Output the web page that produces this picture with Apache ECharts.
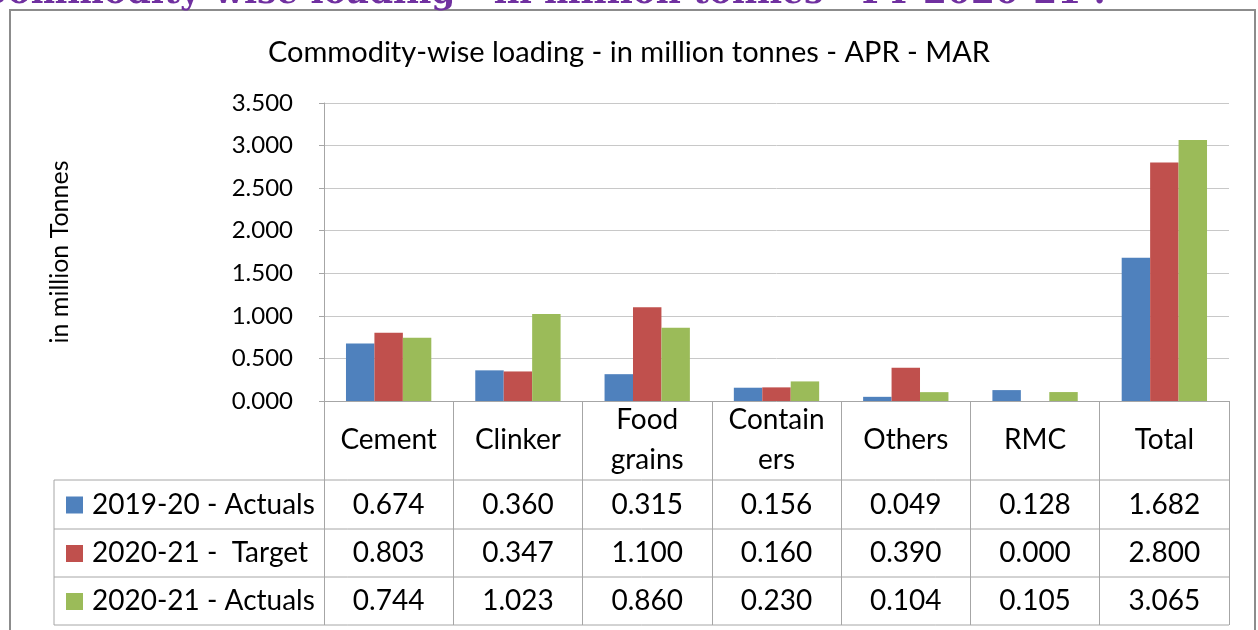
<!DOCTYPE html>
<html>
<head>
<meta charset="utf-8">
<script src="https://cdn.jsdelivr.net/npm/echarts@6/dist/echarts.min.js"></script>
<style>
html, body { margin: 0; padding: 0; background: #fff; }
#main { width: 1258px; height: 630px; }
</style>
</head>
<body>
<div id="main"></div>
<script>
// data
var categories = ['Cement', 'Clinker', 'Food\ngrains', 'Contain\ners', 'Others', 'RMC', 'Total'];
var seriesNames = ['2019-20 - Actuals', '2020-21 -  Target', '2020-21 - Actuals'];
var actuals1920 = [0.674, 0.360, 0.315, 0.156, 0.049, 0.128, 1.682];
var target2021 = [0.803, 0.347, 1.100, 0.160, 0.390, 0.000, 2.800];
var actuals2021 = [0.744, 1.023, 0.860, 0.230, 0.104, 0.105, 3.065];
var colors = ['#4F81BD', '#C0504D', '#9BBB59'];

var pageTitle = 'Commodity-wise loading - in million tonnes - FY 2020-21 :';
var chartTitle = 'Commodity-wise loading - in million tonnes - APR - MAR';
var yName = 'in million Tonnes';

// layout
var FONT = 'Lato';
var gridL = 324, gridT = 103, gridR = 1229, gridB = 401;
var tableL = 54;
var rowY = [480, 529, 577, 625];
var lineColor = '#a6a6a6';
var tableFont = 28;

var allSeries = [actuals1920, target2021, actuals2021];

var myChart = echarts.init(document.getElementById('main'));

var series = [];
for (var i = 0; i < allSeries.length; i++) {
    series.push({
        name: seriesNames[i],
        type: 'bar',
        data: allSeries[i],
        barGap: '0%',
        barCategoryGap: '34%',
        itemStyle: { color: colors[i] },
        animation: false
    });
}

myChart.setOption({
    animation: false,
    title: {
        text: chartTitle,
        left: 'center',
        top: 33,
        textStyle: { fontFamily: FONT, fontSize: 29, fontWeight: 'normal', color: '#000' }
    },
    grid: {
        left: gridL,
        top: gridT,
        width: gridR - gridL,
        height: gridB - gridT,
        containLabel: false
    },
    xAxis: {
        type: 'category',
        data: categories,
        axisLine: { lineStyle: { color: lineColor, width: 1 } },
        axisTick: {
            show: true,
            interval: 0,
            length: rowY[3] - gridB,
            lineStyle: { color: lineColor, width: 1 }
        },
        axisLabel: {
            interval: 0,
            margin: 39,
            verticalAlign: 'middle',
            lineHeight: 40,
            fontFamily: FONT,
            fontSize: tableFont,
            color: '#000'
        }
    },
    yAxis: {
        type: 'value',
        min: 0,
        max: 3.5,
        interval: 0.5,
        name: yName,
        nameLocation: 'middle',
        nameGap: 252,
        nameTextStyle: { fontFamily: FONT, fontSize: 25, color: '#000' },
        axisLine: { show: true, lineStyle: { color: lineColor } },
        axisTick: { show: true, length: 5, lineStyle: { color: lineColor } },
        splitLine: { show: true, lineStyle: { color: '#c8c8c8', width: 1 } },
        axisLabel: {
            margin: 31,
            fontFamily: FONT,
            fontSize: 24,
            color: '#000',
            formatter: function (v) { return v.toFixed(3); }
        }
    },
    series: series
});

// data table, title band and frame
var g = [];
// frame
g.push({
    type: 'rect', shape: { x: 10, y: 10, width: 1245, height: 640 },
    style: { fill: 'none', stroke: '#8c8c8c', lineWidth: 2 }, z: 0
});
// purple page title, cut off by the top edge
g.push({
    type: 'text', x: 1106, y: -6,
    style: {
        text: pageTitle, align: 'right', verticalAlign: 'middle',
        fontFamily: 'DejaVu Serif', fontWeight: 'bold', fontSize: 34.5, fill: '#7030A0'
    }
});
// horizontal table lines
for (var r = 0; r < rowY.length; r++) {
    g.push({
        type: 'line', shape: { x1: tableL, y1: rowY[r], x2: gridR, y2: rowY[r] },
        style: { stroke: lineColor, lineWidth: 1 }
    });
}
// left edge of legend column
g.push({
    type: 'line', shape: { x1: tableL, y1: rowY[0], x2: tableL, y2: rowY[3] },
    style: { stroke: lineColor, lineWidth: 1 }
});
for (var s = 0; s < allSeries.length; s++) {
    var cy = (rowY[s] + rowY[s + 1]) / 2;
    g.push({
        type: 'rect', shape: { x: 66, y: cy - 8, width: 17, height: 17 },
        style: { fill: colors[s] }
    });
    g.push({
        type: 'text', x: 92, y: cy,
        style: {
            text: seriesNames[s], align: 'left', verticalAlign: 'middle',
            fontFamily: FONT, fontSize: tableFont, fill: '#000'
        }
    });
    for (var c = 0; c < categories.length; c++) {
        var px = myChart.convertToPixel({ xAxisIndex: 0 }, categories[c]);
        g.push({
            type: 'text', x: px, y: cy,
            style: {
                text: allSeries[s][c].toFixed(3), align: 'center', verticalAlign: 'middle',
                fontFamily: FONT, fontSize: tableFont, fill: '#000'
            }
        });
    }
}
myChart.setOption({ graphic: g });
</script>
</body>
</html>
